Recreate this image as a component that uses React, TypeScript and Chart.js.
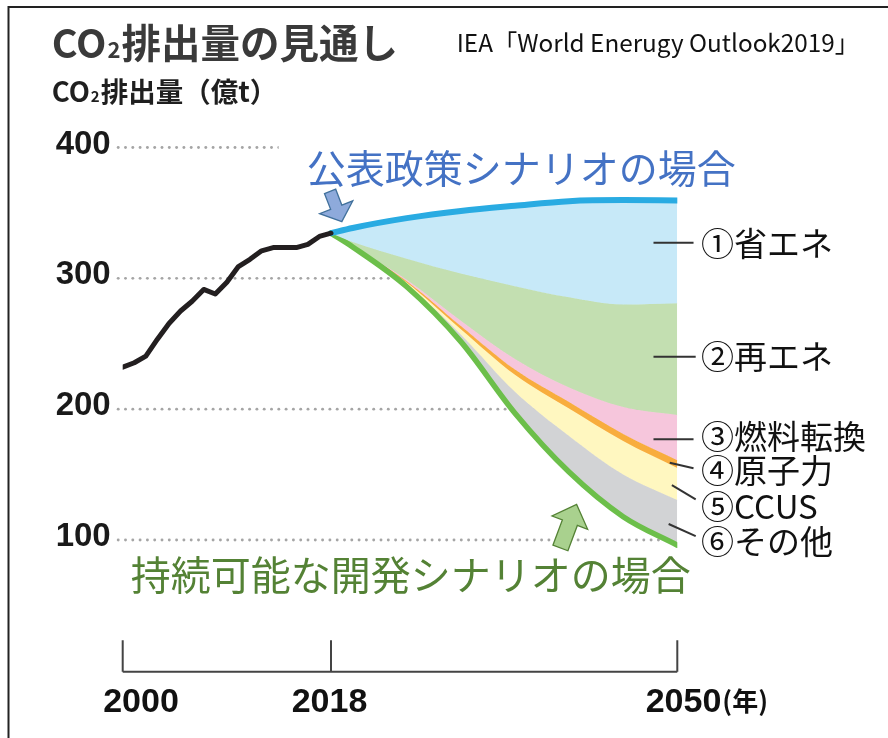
import { useEffect, useRef } from "react";
import { Chart, registerables } from "chart.js";

Chart.register(...registerables);

// ---------------- data ----------------
const historyYears = [2000, 2001, 2002, 2003, 2004, 2005, 2006, 2007, 2008, 2009, 2010, 2011, 2012, 2013, 2014, 2015, 2016, 2017, 2018];
const historyEmissions = [232, 235.5, 240.5, 253.5, 265.5, 275, 282.5, 291.5, 288, 297, 309, 314.5, 321, 323.5, 323.5, 323.5, 326, 332, 334.5];

const outlookYears = [2018, 2020, 2025, 2030, 2035, 2040, 2045, 2050];
const statedPolicies = [334.5, 338.5, 346, 351.5, 355.5, 359, 359.8, 359.5];
const sustainableDevelopment = [334.5, 324, 293.6, 251.6, 196.9, 151.9, 117.8, 96];
// reductions stacked on top of the sustainable-development path (bottom to top)
const cutOther = [0, 0.2, 1.8, 5.5, 16.4, 27.6, 32.3, 34.5];
const cutCCUS = [0, 0.1, 1.4, 4, 13, 21, 25.5, 24.5];
const cutNuclear = [0, 0.2, 1, 2.5, 4, 5, 5.5, 6];
const cutFuelSwitch = [0, 0.1, 1.2, 4, 8, 11, 20.5, 34.5];
const cutRenewables = [0, 3.2, 16, 36, 55.7, 69, 78.4, 85.5];
// efficiency = statedPolicies minus everything below it

const yTickValues = [100, 200, 300, 400];
const xTickYears = [2000, 2018, 2050];
const xTickLabels = ["2000", "2018", "2050"];
const xUnitLabel = "(年)";

const wedgeLabels = ["①省エネ", "②再エネ", "③燃料転換", "④原子力", "⑤CCUS", "⑥その他"];

const titleText = "排出量の見通し";
const subtitleText = "排出量（億t）";
const sourceText = "IEA「World Enerugy Outlook2019」";
const statedLabel = "公表政策シナリオの場合";
const sustainableLabel = "持続可能な開発シナリオの場合";

// ---------------- layout ----------------
const W = 888;
const H = 738;
const AREA = { left: 122.7, right: 677.3, top: 147.5, bottom: 670.8 };
const SPLIT_PX = 331; // where 2018 sits on the drawn axis
const splitFrac = (SPLIT_PX - AREA.left) / (AREA.right - AREA.left);
const histMax = 2000 + (2018 - 2000) / splitFrac;
const outMin = 2050 - (2050 - 2018) / (1 - splitFrac);

const CJK = '"Noto Sans CJK JP", "Noto Sans", sans-serif';
const NUM = '"Liberation Sans", Arial, sans-serif';

// annotation anchors in data space (outlook axis year, value)
const leaderLines = [
  { from: [2047.8, 327.2], to: [2051.5, 327.2], text: [2052.2, 327.0] },
  { from: [2047.8, 240.1], to: [2051.7, 240.1], text: [2052.2, 240.1] },
  { from: [2047.8, 176.9], to: [2051.5, 176.9], text: [2052.2, 179.0] },
  { from: [2049.3, 159.1], to: [2051.5, 154.8], text: [2052.2, 153.5] },
  { from: [2049.5, 142.0], to: [2051.7, 131.1], text: [2052.2, 125.4] },
  { from: [2049.2, 112.2], to: [2051.7, 103.0], text: [2052.2, 98.7] },
];

const pts = (xs: number[], ys: number[]) => xs.map((x, i) => ({ x, y: ys[i] }));
const add = (a: number[], b: number[]) => a.map((v, i) => v + b[i]);

function drawArrow(
  ctx: CanvasRenderingContext2D,
  tipX: number, tipY: number, dx: number, dy: number,
  headLen: number, headHalf: number, shaftHalf: number, shaftLen: number,
  fill: string, stroke: string
) {
  const n = Math.hypot(dx, dy);
  const ux = dx / n, uy = dy / n;
  const px = -uy, py = ux;
  const bx = tipX - ux * headLen, by = tipY - uy * headLen;
  const sx = bx - ux * shaftLen, sy = by - uy * shaftLen;
  ctx.beginPath();
  ctx.moveTo(tipX, tipY);
  ctx.lineTo(bx + px * headHalf, by + py * headHalf);
  ctx.lineTo(bx + px * shaftHalf, by + py * shaftHalf);
  ctx.lineTo(sx + px * shaftHalf, sy + py * shaftHalf);
  ctx.lineTo(sx - px * shaftHalf, sy - py * shaftHalf);
  ctx.lineTo(bx - px * shaftHalf, by - py * shaftHalf);
  ctx.lineTo(bx - px * headHalf, by - py * headHalf);
  ctx.closePath();
  ctx.fillStyle = fill;
  ctx.fill();
  ctx.lineWidth = 1.3;
  ctx.strokeStyle = stroke;
  ctx.stroke();
}

function drawCO2(ctx: CanvasRenderingContext2D, x: number, y: number, size: number, rest: string, color: string) {
  ctx.fillStyle = color;
  ctx.textAlign = "left";
  ctx.textBaseline = "alphabetic";
  ctx.font = `bold ${size}px ${CJK}`;
  ctx.fillText("CO", x, y);
  let cx = x + ctx.measureText("CO").width;
  ctx.font = `bold ${Math.round(size * 0.55)}px ${CJK}`;
  ctx.fillText("2", cx + 1, y);
  cx += ctx.measureText("2").width + 2;
  ctx.font = `bold ${size}px ${CJK}`;
  ctx.fillText(rest, cx, y);
}

const decor = {
  id: "decor",
  beforeDatasetsDraw(chart: any) {
    const { ctx, chartArea, scales } = chart;
    ctx.save();
    ctx.fillStyle = "#a5a5a5";
    for (const v of yTickValues) {
      const py = scales.y.getPixelForValue(v);
      for (let px = chartArea.left - 4.5; px <= chartArea.right; px += 7.3) {
        ctx.beginPath();
        ctx.arc(px, py, 1.45, 0, Math.PI * 2);
        ctx.fill();
      }
    }
    ctx.restore();
  },
  afterDatasetsDraw(chart: any) {
    const { ctx, scales } = chart;
    const xh = scales.xh, xp = scales.xp, y = scales.y;
    const X = (yr: number) => xp.getPixelForValue(yr);
    const Y = (v: number) => y.getPixelForValue(v);
    ctx.save();

    // stated policies label (on white)
    const bx = X(2015.75), by = Y(384.1);
    ctx.fillStyle = "#ffffff";
    ctx.fillRect(bx - 28, by - 26, 470, 50);
    ctx.font = `39px ${CJK}`;
    ctx.fillStyle = "#4472c4";
    ctx.textAlign = "left";
    ctx.textBaseline = "middle";
    ctx.fillText(statedLabel, bx, by);

    drawArrow(ctx, X(2019), Y(343.3), 0.36, 0.93, 15.5, 17.8, 6, 17, "#8eaadb", "#41719c");

    // sustainable label
    ctx.font = `40px ${CJK}`;
    ctx.fillStyle = "#548235";
    ctx.textBaseline = "middle";
    ctx.fillText(sustainableLabel, X(1999.5), Y(73.2));

    drawArrow(ctx, X(2040.7), Y(127.2), 0.35, -0.94, 19.5, 19, 8, 27, "#a9d18e", "#548235");

    // leader lines and wedge labels
    ctx.strokeStyle = "#333333";
    ctx.lineWidth = 2;
    ctx.font = `33px ${CJK}`;
    ctx.fillStyle = "#111111";
    leaderLines.forEach((l, i) => {
      ctx.beginPath();
      ctx.moveTo(X(l.from[0]), Y(l.from[1]));
      ctx.lineTo(X(l.to[0]), Y(l.to[1]));
      ctx.stroke();
      ctx.fillText(wedgeLabels[i], X(l.text[0]), Y(l.text[1]));
    });

    // bracket axis
    const xs = xTickYears.map((yr) => (yr <= 2018 ? xh.getPixelForValue(yr) : xp.getPixelForValue(yr)));
    const baseY = chart.chartArea.bottom + 1;
    ctx.strokeStyle = "#444444";
    ctx.lineWidth = 2;
    ctx.beginPath();
    ctx.moveTo(xs[0], baseY);
    ctx.lineTo(xs[xs.length - 1], baseY);
    xs.forEach((px) => {
      ctx.moveTo(px, baseY);
      ctx.lineTo(px, baseY - 31.5);
    });
    ctx.stroke();

    const labelShift = [18.3, -1.5, 6.2];
    ctx.fillStyle = "#111111";
    ctx.textBaseline = "alphabetic";
    ctx.textAlign = "center";
    ctx.font = `bold 34px ${NUM}`;
    xTickLabels.forEach((t, i) => ctx.fillText(t, xs[i] + labelShift[i], baseY + 40));
    const last = xTickLabels.length - 1;
    const lastRight = xs[last] + labelShift[last] + ctx.measureText(xTickLabels[last]).width / 2;
    ctx.textAlign = "left";
    ctx.font = `bold 26px ${CJK}`;
    ctx.fillText(xUnitLabel, lastRight + 1, baseY + 39);

    ctx.restore();
  },
  afterDraw(chart: any) {
    const { ctx } = chart;
    ctx.save();
    drawCO2(ctx, 51.7, 58, 39.5, titleText, "#3a3a3a");
    drawCO2(ctx, 51.7, 102, 27.5, subtitleText, "#1f1f1f");
    ctx.font = `24.3px ${CJK}`;
    ctx.fillStyle = "#111111";
    ctx.textAlign = "left";
    ctx.textBaseline = "alphabetic";
    ctx.fillText(sourceText, 456.7, 51.5);
    // frame
    ctx.strokeStyle = "#222222";
    ctx.lineWidth = 2;
    ctx.beginPath();
    ctx.moveTo(W, 7);
    ctx.lineTo(8.5, 7);
    ctx.lineTo(8.5, H);
    ctx.stroke();
    ctx.restore();
  },
};

export default function App() {
  const ref = useRef<HTMLCanvasElement>(null);

  useEffect(() => {
    const b6 = add(sustainableDevelopment, cutOther);
    const b5 = add(b6, cutCCUS);
    const b4 = add(b5, cutNuclear);
    const b3 = add(b4, cutFuelSwitch);
    const b2 = add(b3, cutRenewables);

    const band = (data: number[], color: string) => ({
      data: pts(outlookYears, data),
      xAxisID: "xp",
      yAxisID: "y",
      borderColor: color,
      backgroundColor: color,
      borderWidth: 1,
      fill: "+1",
      order: 1,
      pointRadius: 0,
      cubicInterpolationMode: "monotone",
    });

    const chart = new Chart(ref.current as HTMLCanvasElement, {
      type: "line",
      data: {
        datasets: [
          {
            data: pts(historyYears, historyEmissions),
            xAxisID: "xh",
            yAxisID: "y",
            borderColor: "#231f20",
            borderWidth: 5,
            fill: false,
            order: 0,
            pointRadius: 0,
            tension: 0,
            borderJoinStyle: "round",
            borderCapStyle: "round",
          },
          {
            data: pts(outlookYears, statedPolicies),
            xAxisID: "xp",
            yAxisID: "y",
            borderColor: "#29abe2",
            backgroundColor: "#c7e9f8",
            borderWidth: 6,
            fill: "+1",
            order: 0,
            pointRadius: 0,
            cubicInterpolationMode: "monotone",
            borderJoinStyle: "round",
            borderCapStyle: "round",
          },
          band(b2, "#c3dfb1"),
          band(b3, "#f6c6dc"),
          band(b4, "#f8ad3e"),
          band(b5, "#fff7c0"),
          band(b6, "#d2d3d5"),
          {
            data: pts(outlookYears, sustainableDevelopment),
            xAxisID: "xp",
            yAxisID: "y",
            borderColor: "#6cbf4a",
            borderWidth: 5.5,
            fill: false,
            order: 0,
            pointRadius: 0,
            cubicInterpolationMode: "monotone",
            borderJoinStyle: "round",
            borderCapStyle: "round",
          },
        ] as any,
      },
      options: {
        responsive: false,
        animation: false,
        devicePixelRatio: 1,
        events: [],
        layout: {
          padding: { left: 0, right: W - AREA.right, top: AREA.top, bottom: H - AREA.bottom },
        },
        plugins: {
          legend: { display: false },
          tooltip: { enabled: false },
        },
        scales: {
          xh: { type: "linear", axis: "x", display: false, min: 2000, max: histMax },
          xp: { type: "linear", axis: "x", display: false, min: outMin, max: 2050 },
          y: {
            type: "linear",
            position: "left",
            min: 0,
            max: 400,
            afterFit: (s: any) => {
              s.width = AREA.left;
            },
            afterBuildTicks: (s: any) => {
              s.ticks = yTickValues.map((v) => ({ value: v }));
            },
            grid: { display: false, drawTicks: false },
            border: { display: false },
            ticks: {
              padding: 12,
              labelOffset: -3,
              color: "#1a1a1a",
              font: { family: NUM, size: 33, weight: "bold" },
              callback: (v: any) => String(v),
            },
          },
        } as any,
      },
      plugins: [decor],
    });
    return () => chart.destroy();
  }, []);

  return (
    <div style={{ position: "absolute", left: 0, top: 0, width: W, height: H, background: "#ffffff" }}>
      <canvas ref={ref} width={W} height={H} style={{ width: W, height: H, display: "block" }} />
    </div>
  );
}
